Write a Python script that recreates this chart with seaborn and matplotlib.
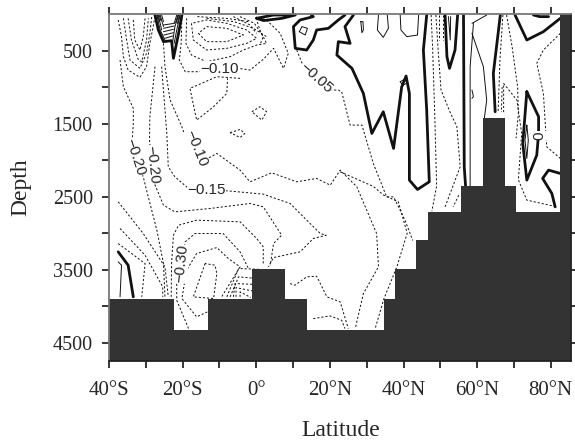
import matplotlib
matplotlib.use("Agg")
import matplotlib.pyplot as plt
import seaborn as sns

# ---------- bathymetry ----------
mask_lat = [-40, -22.3, -13.2, -1.1, 7.8, 13.8, 34.7, 37.7, 43.4, 46.7, 55.6, 61.6, 67.6, 70.6, 82.6, 85.5]
mask_top = [3900, 4330, 3900, 3490, 3900, 4330, 3900, 3490, 3100, 2710, 2360, 1430, 2360, 2710, 0, 0]

# ---------- axis text ----------
x_ticks = [-40, -30, -20, -10, 0, 10, 20, 30, 40, 50, 60, 70, 80]
x_labels = ["40°S", "", "20°S", "", "0°", "", "20°N", "", "40°N", "", "60°N", "", "80°N"]
y_ticks = [500, 1000, 1500, 2000, 2500, 3000, 3500, 4000, 4500]
y_labels = ["500", "", "1500", "", "2500", "", "3500", "", "4500"]

# ---------- negative contours (dashed) ----------
d01 = [(-37.5,82),(-36.6,310),(-36.1,584),(-34.8,767),(-31.6,867),(-29.8,721),(-28.9,402),(-28,173),(-27.5,36)]
d02 = [(-36.1,59),(-35.2,356),(-34.3,630),(-31.6,744),(-29.8,539),(-28.9,265),(-28.4,36)]
d03 = [(-34.8,59),(-33.9,356),(-32,630),(-31.1,653),(-29.8,356),(-29.3,59)]
d04 = [(-33.4,82),(-33,356),(-31.6,493),(-30.7,310),(-30.2,59)]
d05 = [(-37,630),(-36.1,995),(-33.4,1292),(-33.4,1498),(-33.7,1726),(-32.5,2000),(-30.7,2228),(-29.8,2411),(-27,2959),(-25.2,3416),(-24.8,3872)]
d06 = [(-27.5,721),(-28.9,1406),(-29,1726),(-28.4,2046),(-27.5,2340),(-25.2,2617),(-22.1,2708),(-12.5,2662),(-1.7,2594),(1.9,2639),(6.9,3028),(4.7,3142),(3.8,3440)]
d07 = [(-25.2,402),(-24.8,721),(-23.4,1178),(-20.2,1543),(-18.2,1840),(-15.7,2046),(-10.7,1909),(-4.4,2137),(-1.7,2297),(4.2,2174),(11,2297),(16.4,2251),(20.1,2343),(22.8,2137),(27.3,2365),(32.7,3005),(33.2,3461),(29.1,3827),(26.9,4306)]
d08 = [(-25.7,721),(-24.3,1635),(-23.9,2091),(-22.1,2229),(-18.4,2388),(-8,2420),(1.9,2466),(9.2,2594),(13.7,2822),(17.4,3005),(19,3028),(15.5,3073),(11.9,3256),(4.7,3334),(3.3,3461)]
d09 = [(-20.2,59),(-20.4,402),(-20.9,630),(-19.3,790),(-15.7,790),(-4.8,744),(-1.7,767),(1.9,621),(4.7,470),(7.4,744),(8.7,539),(6.5,265),(2.8,82),(0.1,36)]
d10 = [(-18.9,59),(-19.1,402),(-17.6,562),(-13.5,653),(-7.1,584),(-3.5,493),(0.1,425),(2.8,402),(1,219),(0.1,82)]
d11 = [(-17.6,128),(-17.1,356),(-13.5,493),(-8,470),(-2.6,402),(0.1,333),(-2.6,219),(-8,128),(-13.5,82),(-17.6,128)]
d12 = [(-15.7,265),(-13.5,379),(-8,379),(-3.5,288),(-8,196),(-13.5,173),(-15.7,265)]
d13 = [(-13.5,59),(-6,105),(-0.8,196),(2.8,310)]
d14 = [(-4.4,881),(-10.7,858),(-18,1018),(-16.2,1452),(-11.6,1269),(-8,1087),(-7.8,881)]
d15 = [(-1.2,1338),(1,1269),(2.8,1338),(1.5,1452),(-1.2,1338)]
d16 = [(-7.1,1625),(-4.4,1580),(-3.1,1635),(-4.4,1690),(-7.1,1625)]
d17 = [(11,493),(12.6,693),(16.4,881),(20.1,1041),(22.3,1041),(23.2,1064),(25.5,1521),(28.7,1521),(31.8,2046),(35.4,2503),(37.3,2503),(40.4,2820),(42.5,3100)]
d18 = [(22.8,2160),(31.8,2360),(34.6,2480),(38.6,2571),(41,3000),(38.2,3461),(34.7,3895),(32.3,4306)]
d19 = [(-37.5,2571),(-30.7,3005),(-24.8,3461),(-23.9,3872)]
d20 = [(-37,2936),(-30.2,3302),(-25.4,3735),(-25.4,3872)]
d21 = [(-37.5,3142),(-30.2,3416),(-31.1,3872)]
d22 = [(-23.1,3872),(-23,3416),(-22.5,3028),(-21.1,2891),(-16.2,2822),(-4.4,2845),(0.1,3073),(1.9,3187),(1.9,3440)]
d23 = [(-18.4,4306),(-21.6,3918),(-21.6,3667),(-20.4,3416),(-19.3,3119),(-16.6,3005),(-9,3005),(-4.4,3256),(-2.1,3484)]
d24 = [(-13.3,4078),(-16.2,4146),(-20.2,3895),(-18.9,3507),(-16.2,3279),(-10.7,3197),(-7.6,3347),(-4.4,3461),(-9.4,3872)]
d25 = [(-13.9,3416),(-17.1,3872),(-11.6,3895),(-10.7,3553),(-11.2,3439),(-13.9,3416)]
d26 = [(-8,3872),(-4.8,3484),(0.85,3495)]
d27 = [(-7.1,3872),(-4.8,3598),(-1.1,3615)]
d28 = [(-6.2,3872),(-5.8,3690),(-1.1,3700)]
d29 = [(-5.5,3872),(-5.5,3745),(-1.1,3790)]
d30 = [(-4.4,3872),(-4.4,3804),(-1.5,3880)]
d31 = [(9.2,3690),(10.5,3713),(13.7,3598),(16.4,3589),(19.2,3872),(22.8,3941),(25,4306)]
d32 = [(15.5,4170),(20,4133),(23.2,4192),(24.1,4306)]
d33 = [(47.5,14),(47.9,450),(48.5,1400),(49,2356),(47.7,2700)]
d34 = [(48.8,14),(49.5,560),(50.2,1041),(52.7,1350),(54.5,1543),(55.4,2091),(51.3,2640)]
d35 = [(49.7,14),(49.7,356)]
d36 = [(55,2480),(53.5,2640)]
d37 = [(68,14),(69.5,447),(71,1000),(71.2,1361),(70.6,1700)]
d38 = [(67,14),(66.2,630),(65.7,1343)]
d39 = [(66.8,1000),(66.6,1343)]
d40 = [(67.2,1343),(67.2,950),(70.8,1178),(72.1,1635),(71.2,2270),(73.5,2548),(81.7,2640)]
d41 = [(82.6,265),(78,493),(76.2,676),(78,1087),(78.9,1817),(82.6,1977)]
d42 = [(-4.4,36),(-0.5,128),(1.9,310),(1,425)]
d43 = [(-6.2,36),(-1.7,150),(0.1,265)]
d44 = [(-16,36),(-8,60),(-2,105)]
d45 = [(50.7,14),(50.7,356)]

# ---------- positive contours (thin solid) ----------
s01 = [(28.4,105),(29,105),(29.1,219),(28.7,256),(28.4,105)]
s02 = [(33.2,14),(32.9,219),(34.5,320),(35.9,196),(35.6,14)]
s03 = [(39.1,14),(39.3,219),(40.9,310),(43.8,288),(44.1,14)]
s04 = [(52.2,36),(52.7,356),(52.8,36)]
s05 = [(58.6,265),(61.7,721),(62.6,1178),(61.9,1452)]
s06 = [(59,128),(58.1,721),(58.1,2360)]
s07 = [(58.6,128),(62.6,14)]
s08 = [(58.6,1041),(59,1132),(58.6,1155)]
s09 = [(73.5,1521),(73.9,1726),(73.5,1977),(73,1726),(73.5,1521)]
s10 = [(-37.5,3393),(-36.6,3439),(-37,3872)]
s11 = [(11.7,242),(12.4,173),(13.9,196),(13.3,288),(11.7,242)]
s12 = [(-27,14),(-26.1,219),(-24.8,356)]
s13 = [(-26.6,14),(-25.7,219)]
s14 = [(-26.1,14),(-25.2,173)]
s15 = [(-25.7,14),(-25.2,105)]
s16 = [(-20.7,14),(-21.6,219),(-22.3,402)]
s17 = [(-21.1,14),(-22.1,173),(-22.7,379)]
s18 = [(-21.6,14),(-22.3,128)]
s19 = [(-25.2,150),(-22.3,128)]
s20 = [(-25.2,196),(-22.3,164)]
s21 = [(-25.2,242),(-22.5,210)]
s22 = [(-25.1,288),(-22.5,256)]
s23 = [(-24.8,333),(-22.7,301)]
s24 = [(39.1,927),(40.4,890),(41.1,941),(39.8,977),(39.1,927)]
s25 = [(-26.9,14),(-26.3,100)]
s26 = [(-26.4,14),(-25.9,90)]
s27 = [(-21.3,14),(-21.9,120)]
s28 = [(-20.9,14),(-21.4,130)]

# ---------- zero contours (thick) ----------
z01 = [(-27.5,14),(-26.6,219),(-25.2,379),(-23,365),(-22.5,607),(-21.1,265),(-20.2,14)]
z02 = [(0.1,59),(4.7,14),(10.6,14),(7,59),(2,90),(0.1,59)]
z03 = [(24.1,14),(22.3,82),(19.6,196),(16.4,219),(15.5,356),(13.7,493),(10.6,470),(10.1,173),(11.9,82),(15.5,36),(15,14)]
z04 = [(26.4,14),(24.1,173),(25.5,402),(22.3,379),(21.9,562),(26,744),(29.1,1087),(31.4,1635),(34.5,1338),(37.3,1840),(39.5,1000),(40.7,849),(41.6,1087),(41.6,2274),(43.8,2402),(47,2297),(46.3,1315),(45.4,493),(46.3,14)]
z06 = [(51.3,14),(51.8,584),(52.5,744),(54,493),(54.7,14)]
z07 = [(56.3,14),(56.5,2091),(57,2457)]
z08 = [(66.3,14),(64.4,813),(64.9,1338)]
z09 = [(70.3,14),(73.5,356),(78,242),(82.6,59)]
z10 = [(73.5,1064),(76.7,1406),(76.7,1635),(76.2,1932),(73.5,2274),(72.4,1772),(73.5,1064)]
z11 = [(82.6,2183),(79.4,2137),(77.8,2251),(80.3,2457),(81.2,2640)]
z12 = [(75.3,14),(77,36),(79.4,36)]
z13 = [(-37.5,3256),(-34.8,3439),(-33.4,3872)]

dashed_lines = [d01,d02,d03,d04,d05,d06,d07,d08,d09,d10,d11,d12,d13,d14,d15,d16,d17,d18,d19,d20,d21,d22,d23,
                d24,d25,d26,d27,d28,d29,d30,d31,d32,d33,d34,d35,d36,d37,d38,d39,d40,d41,d42,d43,d44,d45]
thin_lines = [s01,s02,s03,s04,s05,s06,s07,s08,s09,s10,s11,s12,s13,s14,s15,s16,s17,s18,s19,s20,s21,s22,s23,s24,s25,s26,s27,s28]
thick_lines = [z01,z02,z03,z04,z06,z07,z08,z09,z10,z11,z12,z13]

# ---------- contour labels ----------
label_text = ["−0.10", "−0.05", "−0.10", "−0.20", "−0.20", "−0.15", "−0.30", "0"]
label_lat = [-10, 16.3, -16.3, -28.3, -32.9, -13.5, -20.4, 77]
label_dep = [750, 880, 1840, 2060, 1960, 2410, 3420, 1660]
label_rot = [0, -42, -68, -84, -72, 0, 84, 90]

sns.set_style("ticks")
plt.rcParams["font.family"] = ["Liberation Serif", "DejaVu Serif"]

fig, ax = plt.subplots(figsize=(5.75, 4.41), dpi=100)
fig.subplots_adjust(left=109/575, right=571/575, bottom=1-361/441, top=1-14/441)

def trace(points, **style):
    sns.lineplot(x=[p[0] for p in points], y=[p[1] for p in points], sort=False,
                 estimator=None, color="#111111", legend=False, ax=ax, **style)

for pts in dashed_lines:
    trace(pts, linewidth=0.7, linestyle=(0, (2.2, 2)))
for pts in thin_lines:
    trace(pts, linewidth=0.7)
for pts in thick_lines:
    trace(pts, linewidth=2.0)

for txt, la, de, ro in zip(label_text, label_lat, label_dep, label_rot):
    ax.text(la, de, txt, rotation=ro, ha="center", va="center", fontsize=11,
            family="Liberation Sans", zorder=4,
            bbox=dict(facecolor="white", edgecolor="none", pad=0.2))

ax.fill_between(mask_lat, mask_top, 4750, step="post", color="#333333", linewidth=0, zorder=5)

ax.set_xlim(-40, 85.5)
ax.set_ylim(4750, 0)
ax.set_xticks(x_ticks, x_labels)
ax.set_yticks(y_ticks, y_labels)
ax.tick_params(axis="both", which="both", direction="out", length=5.2, width=1.1, color="black",
               top=True, right=True, labeltop=False, labelright=False)
ax.tick_params(axis="x", labelsize=15, pad=9)
ax.tick_params(axis="y", labelsize=14.5, pad=6.5)
for name, sp in ax.spines.items():
    sp.set_visible(True)
    sp.set_linewidth(1.3)
    sp.set_color("#777777" if name in ("left", "top") else "#222222")
    sp.set_zorder(6)
ax.set_xlabel("Latitude", fontsize=17, va="center")
ax.set_ylabel("Depth", fontsize=17, va="center")
ax.xaxis.set_label_coords(0.502, -(431-361)/347)
ax.yaxis.set_label_coords((21-109)/462, (361-187)/347)
fig.savefig("out.png", dpi=100)
